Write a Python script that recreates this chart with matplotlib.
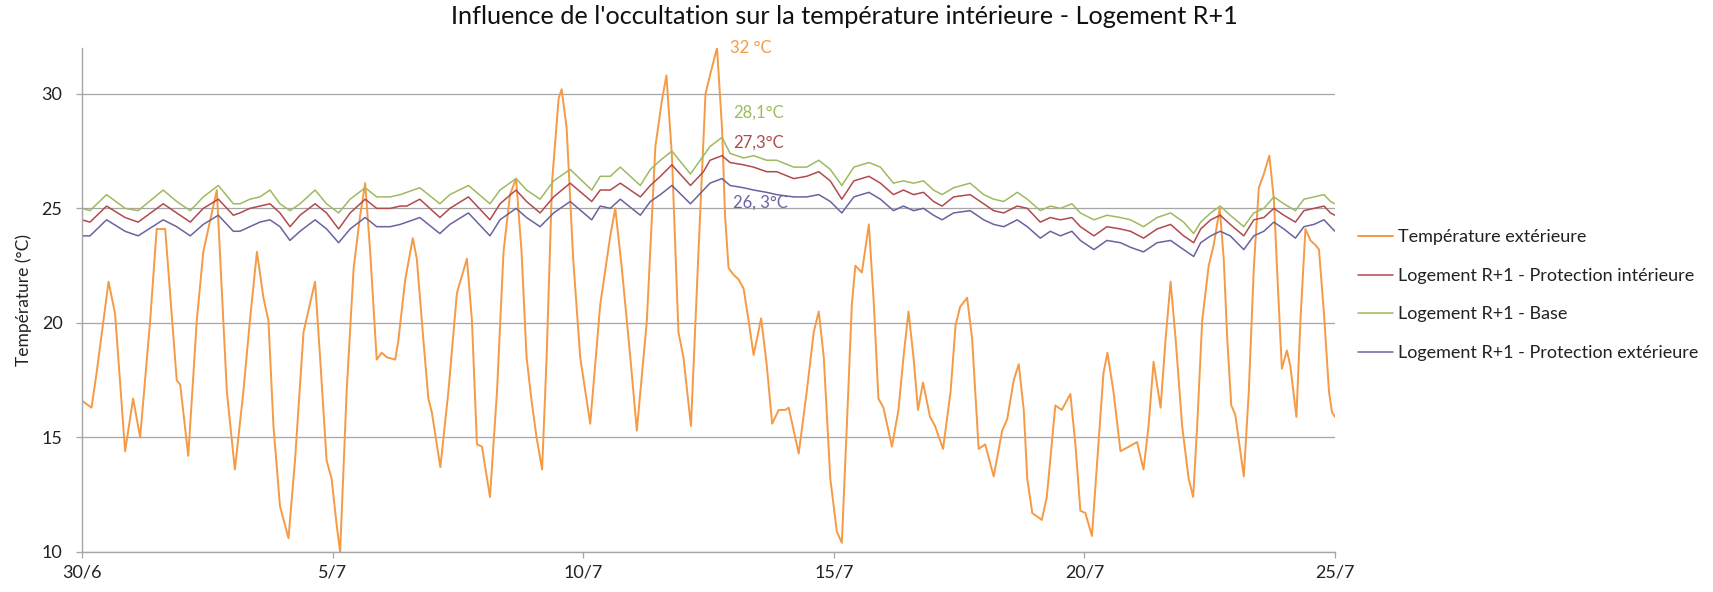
import matplotlib
matplotlib.use("Agg")
import matplotlib.pyplot as plt

plt.rcParams['font.family'] = ['Lato', 'DejaVu Sans']

# --- Outdoor temperature (days since 30/6, degC) ---
ext_days = [0.00, 0.19, 0.29, 0.53, 0.66, 0.86, 1.02, 1.16, 1.36, 1.49, 1.66, 1.89, 1.96,
            2.12, 2.29, 2.42, 2.55, 2.69, 2.89, 3.05, 3.22, 3.35, 3.49, 3.62, 3.72, 3.82,
            3.95, 4.12, 4.25, 4.42, 4.65, 4.75, 4.88, 4.98, 5.08, 5.15, 5.28, 5.42, 5.55,
            5.65, 5.75, 5.88, 5.98, 6.08, 6.25, 6.31, 6.45, 6.60, 6.68, 6.81, 6.91, 6.98,
            7.15, 7.31, 7.48, 7.68, 7.78, 7.88, 7.98, 8.14, 8.28, 8.41, 8.54, 8.66, 8.77,
            8.87, 8.97, 9.07, 9.18, 9.27, 9.38, 9.51, 9.57, 9.67, 9.80, 9.94, 10.14, 10.34,
            10.54, 10.64, 10.77, 10.94, 11.07, 11.27, 11.44, 11.57, 11.66, 11.77, 11.90,
            12.00, 12.15, 12.30, 12.44, 12.54, 12.67, 12.77, 12.83, 12.90, 13.00, 13.10,
            13.20, 13.30, 13.40, 13.55, 13.66, 13.77, 13.90, 14.03, 14.10, 14.17, 14.30,
            14.46, 14.60, 14.70, 14.80, 14.93, 15.06, 15.16, 15.26, 15.36, 15.43, 15.56,
            15.70, 15.80, 15.89, 15.99, 16.16, 16.29, 16.39, 16.49, 16.59, 16.68, 16.78,
            16.92, 17.02, 17.18, 17.33, 17.43, 17.52, 17.66, 17.76, 17.89, 18.02, 18.19,
            18.36, 18.46, 18.59, 18.69, 18.79, 18.86, 18.96, 19.09, 19.15, 19.25, 19.42,
            19.55, 19.72, 19.82, 19.92, 20.02, 20.15, 20.28, 20.38, 20.46, 20.58, 20.72,
            20.89, 21.05, 21.18, 21.28, 21.38, 21.52, 21.62, 21.72, 21.82, 21.95, 22.08,
            22.17, 22.25, 22.35, 22.48, 22.58, 22.70, 22.78, 22.85, 22.93, 23.01, 23.18,
            23.28, 23.38, 23.48, 23.58, 23.69, 23.78, 23.86, 23.94, 24.04, 24.11, 24.23,
            24.31, 24.41, 24.51, 24.61, 24.68, 24.78, 24.88, 24.94, 25.00]
ext_temp = [16.6, 16.3, 17.8, 21.8, 20.4, 14.4, 16.7, 15.0, 20.1, 24.1, 24.1, 17.5, 17.3,
            14.2, 20.1, 23.1, 24.4, 25.8, 17.0, 13.6, 17.0, 20.1, 23.1, 21.1, 20.1, 15.5,
            12.0, 10.6, 14.0, 19.6, 21.8, 18.5, 14.0, 13.2, 11.2, 10.0, 17.0, 22.4, 24.7,
            26.1, 23.1, 18.4, 18.7, 18.5, 18.4, 19.2, 21.9, 23.7, 22.8, 19.3, 16.7, 16.1,
            13.7, 17.0, 21.3, 22.8, 20.1, 14.7, 14.6, 12.4, 17.0, 23.1, 25.6, 26.3, 23.1,
            18.5, 16.6, 15.0, 13.6, 18.5, 26.2, 29.8, 30.2, 28.5, 22.8, 18.5, 15.6, 20.8,
            23.8, 25.0, 22.4, 18.5, 15.3, 20.1, 27.7, 29.7, 30.8, 27.3, 19.6,
            18.5, 15.5, 23.1, 30.0, 30.9, 32.0, 28.5, 24.7, 22.4, 22.1, 21.9,
            21.5, 20.1, 18.6, 20.2, 18.2, 15.6, 16.2, 16.2, 16.3, 15.6, 14.3,
            17.0, 19.6, 20.5, 18.5, 13.2, 10.9, 10.4, 15.5, 20.8, 22.5, 22.2,
            24.3, 20.8, 16.7, 16.3, 14.6, 16.2, 18.5, 20.5, 18.5, 16.2, 17.4,
            15.9, 15.5, 14.5, 17.0, 19.9, 20.7, 21.1, 19.3, 14.5, 14.7, 13.3,
            15.3, 15.8, 17.5, 18.2, 16.2, 13.2, 11.7, 11.5, 11.4, 12.4, 16.4,
            16.2, 16.9, 14.7, 11.8, 11.7, 10.7, 14.7, 17.8, 18.7, 17.0, 14.4,
            14.6, 14.8, 13.6, 15.5, 18.3, 16.3, 19.3, 21.8, 19.3, 15.5, 13.2,
            12.4, 15.5, 20.1, 22.5, 23.4, 25.0, 22.8, 19.3, 16.4, 16.0, 13.3,
            17.0, 22.4, 25.9, 26.5, 27.3, 25.4, 21.6, 18.0, 18.8, 18.1, 15.9,
            20.1, 24.1, 23.6, 23.4, 23.2, 20.4, 17.0, 16.1, 15.9]

# --- Indoor temperatures, R+1 dwelling ---
in_days = [0.00, 0.16, 0.49, 0.86, 1.12, 1.62, 1.89, 2.16, 2.42, 2.72, 3.02, 3.15, 3.35,
           3.55, 3.75, 3.95, 4.15, 4.35, 4.65, 4.88, 5.12, 5.35, 5.65, 5.88, 6.15, 6.35,
           6.48, 6.74, 7.14, 7.34, 7.71, 8.14, 8.34, 8.66, 8.87, 9.14, 9.41, 9.74, 10.17,
           10.34, 10.54, 10.74, 11.14, 11.34, 11.54, 11.77, 12.14, 12.40, 12.53, 12.77,
           12.93, 13.20, 13.40, 13.66, 13.86, 14.20, 14.46, 14.70, 14.93, 15.16, 15.40,
           15.70, 15.93, 16.19, 16.39, 16.59, 16.79, 16.99, 17.16, 17.39, 17.72, 17.99,
           18.19, 18.39, 18.66, 18.86, 19.12, 19.32, 19.52, 19.75, 19.92, 20.19, 20.45,
           20.72, 20.92, 21.18, 21.45, 21.72, 21.98, 22.18, 22.32, 22.52, 22.71, 22.91,
           23.18, 23.38, 23.58, 23.78, 23.98, 24.21, 24.38, 24.58, 24.78, 24.91, 25.00]
base = [25.0, 24.9, 25.6, 25.0, 24.9, 25.8, 25.3, 24.9, 25.5, 26.0, 25.2, 25.2, 25.4,
        25.5, 25.8, 25.2, 24.9, 25.2, 25.8, 25.2, 24.8, 25.4, 25.9, 25.5, 25.5, 25.6,
        25.7, 25.9, 25.2, 25.6, 26.0, 25.2, 25.8, 26.3, 25.8, 25.4, 26.2, 26.7, 25.8,
        26.4, 26.4, 26.8, 26.0, 26.7, 27.1, 27.5, 26.5, 27.3, 27.7, 28.1,
        27.4, 27.2, 27.3, 27.1, 27.1, 26.8, 26.8, 27.1, 26.7, 26.0, 26.8,
        27.0, 26.8, 26.1, 26.2, 26.1, 26.2, 25.8, 25.6, 25.9, 26.1, 25.6,
        25.4, 25.3, 25.7, 25.4, 24.9, 25.1, 25.0, 25.2, 24.8, 24.5, 24.7,
        24.6, 24.5, 24.2, 24.6, 24.8, 24.4, 23.9, 24.4, 24.8, 25.1, 24.7,
        24.2, 24.8, 25.0, 25.5, 25.2, 24.9, 25.4, 25.5, 25.6, 25.3, 25.2]
prot_int = [24.5, 24.4, 25.1, 24.6, 24.4, 25.2, 24.8, 24.4, 25.0, 25.4, 24.7, 24.8, 25.0,
            25.1, 25.2, 24.8, 24.2, 24.7, 25.2, 24.8, 24.1, 24.8, 25.4, 25.0, 25.0, 25.1,
            25.1, 25.4, 24.6, 25.0, 25.5, 24.5, 25.2, 25.8, 25.3, 24.8, 25.5, 26.1, 25.3,
            25.8, 25.8, 26.1, 25.5, 26.0, 26.4, 26.9, 26.0, 26.6, 27.1, 27.3,
            27.0, 26.9, 26.8, 26.6, 26.6, 26.3, 26.4, 26.6, 26.2, 25.4, 26.2,
            26.4, 26.1, 25.6, 25.8, 25.6, 25.7, 25.3, 25.1, 25.5, 25.6, 25.2,
            24.9, 24.8, 25.1, 25.0, 24.4, 24.6, 24.5, 24.6, 24.2, 23.8, 24.2,
            24.1, 24.0, 23.7, 24.1, 24.3, 23.8, 23.5, 24.1, 24.5, 24.7, 24.3,
            23.8, 24.5, 24.6, 25.0, 24.7, 24.4, 24.9, 25.0, 25.1, 24.8, 24.7]
prot_ext = [23.8, 23.8, 24.5, 24.0, 23.8, 24.5, 24.2, 23.8, 24.3, 24.7, 24.0, 24.0, 24.2,
            24.4, 24.5, 24.2, 23.6, 24.0, 24.5, 24.1, 23.5, 24.1, 24.6, 24.2, 24.2, 24.3,
            24.4, 24.6, 23.9, 24.3, 24.8, 23.8, 24.5, 25.0, 24.6, 24.2, 24.8, 25.3, 24.5,
            25.1, 25.0, 25.4, 24.7, 25.3, 25.6, 26.0, 25.2, 25.8, 26.1, 26.3,
            26.0, 25.9, 25.8, 25.7, 25.6, 25.5, 25.5, 25.6, 25.3, 24.8, 25.5,
            25.7, 25.4, 24.9, 25.1, 24.9, 25.0, 24.7, 24.5, 24.8, 24.9, 24.5,
            24.3, 24.2, 24.5, 24.2, 23.7, 24.0, 23.8, 24.0, 23.6, 23.2, 23.6,
            23.5, 23.3, 23.1, 23.5, 23.6, 23.2, 22.9, 23.5, 23.8, 24.0, 23.8,
            23.2, 23.8, 24.0, 24.4, 24.1, 23.7, 24.2, 24.3, 24.5, 24.2, 24.0]

tick_days = [0, 5, 10, 15, 20, 25]
tick_labels = ['30/6', '5/7', '10/7', '15/7', '20/7', '25/7']

# peak values written next to the curves
peak_labels = ['32 °C', '28,1°C', '27,3°C', '26, 3°C']

c_ext = '#F59A45'
c_base = '#9DBB5E'
c_int = '#B04A4E'
c_pext = '#6B62A0'
c_grid = '#A6A6A6'

fig = plt.figure(figsize=(17.13, 5.92), dpi=100)
ax = fig.add_axes([82 / 1713, 40 / 592, 1253 / 1713, 504 / 592])

line_kw = dict(solid_joinstyle='round', solid_capstyle='round')
ax.plot(ext_days, ext_temp, color=c_ext, lw=1.4, label='Température extérieure', **line_kw)
ax.plot(in_days, prot_int, color=c_int, lw=1.1, label='Logement R+1 - Protection intérieure', **line_kw)
ax.plot(in_days, base, color=c_base, lw=1.1, label='Logement R+1 - Base', **line_kw)
ax.plot(in_days, prot_ext, color=c_pext, lw=1.1, label='Logement R+1 - Protection extérieure', **line_kw)

ax.set_xlim(0, 25)
ax.set_ylim(10, 32)
ax.set_yticks([10, 15, 20, 25, 30])
ax.set_xticks(tick_days)
ax.set_xticklabels(tick_labels)
ax.grid(axis='y', color=c_grid, lw=0.9)
ax.set_axisbelow(True)
for side in ['top', 'right']:
    ax.spines[side].set_visible(False)
for side in ['left', 'bottom']:
    ax.spines[side].set_color(c_grid)
    ax.spines[side].set_linewidth(1.0)
ax.tick_params(axis='both', colors=c_grid, labelcolor='#222222', labelsize=13,
               length=4, width=0.9)
ax.tick_params(axis='y', pad=10)
ax.tick_params(axis='x', pad=5)
ax.set_ylabel('Température (°C)', fontsize=12.5, color='#222222', labelpad=7)

# peak annotations
ax.text(12.93, 32.0, peak_labels[0], color=c_ext, fontsize=12, va='center', clip_on=False)
ax.text(13.0, 29.17, peak_labels[1], color=c_base, fontsize=12, va='center')
ax.text(12.99, 27.85, peak_labels[2], color=c_int, fontsize=12, va='center')
ax.text(12.99, 25.25, peak_labels[3], color=c_pext, fontsize=12, va='center')

fig.text(844 / 1713, 1 - 17 / 592, "Influence de l'occultation sur la température intérieure - Logement R+1",
         ha='center', va='center', fontsize=18.2, color='#111111')

fig.legend(loc='upper left', bbox_to_anchor=(1342 / 1713, 1 - 213 / 592), frameon=False,
           fontsize=13, handlelength=1.9, handletextpad=0.3, labelspacing=1.25,
           labelcolor='#222222')

fig.savefig('out.png', dpi=100)
